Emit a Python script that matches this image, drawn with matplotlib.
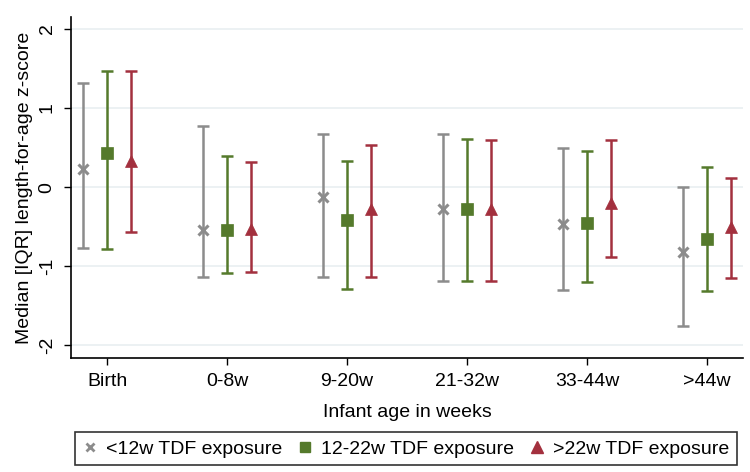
import numpy as np
import matplotlib.pyplot as plt
from matplotlib.lines import Line2D

plt.rcParams["font.family"] = ["Liberation Sans", "DejaVu Sans"]

# DATA
ages = ["Birth", "0-8w", "9-20w", "21-32w", "33-44w", ">44w"]
groups = ["<12w TDF exposure", "12-22w TDF exposure", ">22w TDF exposure"]

med_lt12 = [0.23, -0.54, -0.12, -0.28, -0.47, -0.82]
q1_lt12 = [-0.77, -1.14, -1.14, -1.19, -1.30, -1.75]
q3_lt12 = [1.32, 0.77, 0.67, 0.67, 0.49, 0.00]

med_12_22 = [0.43, -0.54, -0.42, -0.28, -0.45, -0.65]
q1_12_22 = [-0.78, -1.09, -1.29, -1.19, -1.20, -1.31]
q3_12_22 = [1.47, 0.39, 0.33, 0.61, 0.46, 0.26]

med_gt22 = [0.33, -0.53, -0.28, -0.28, -0.20, -0.50]
q1_gt22 = [-0.57, -1.07, -1.14, -1.19, -0.88, -1.15]
q3_gt22 = [1.47, 0.32, 0.53, 0.60, 0.60, 0.11]

colors = ["#8c8c8c", "#557a2c", "#a3303e"]
markers = ["x", "s", "^"]
offsets = [-0.2, 0.0, 0.2]

series = [
    (med_lt12, q1_lt12, q3_lt12),
    (med_12_22, q1_12_22, q3_12_22),
    (med_gt22, q1_gt22, q3_gt22),
]

FS = 14

# FIGURE
fig = plt.figure(figsize=(7.5, 4.72), dpi=100)
ax = fig.add_axes([0.0947, 0.2415, 0.896, 0.7225])

x = np.arange(1, len(ages) + 1)

for (med, lo, hi), c, m, off in zip(series, colors, markers, offsets):
    med = np.array(med)
    lo = np.array(lo)
    hi = np.array(hi)
    yerr = [med - lo, hi - med]
    ax.errorbar(x + off, med, yerr=yerr, fmt="none", ecolor=c,
                elinewidth=1.8, capsize=4, capthick=1.8, zorder=2)
    if m == "x":
        ax.plot(x + off, med, ls="none", marker="x", color=c,
                markersize=7, markeredgewidth=2.2, zorder=3)
    else:
        ax.plot(x + off, med, ls="none", marker=m, color=c,
                markersize=8 if m == "s" else 9, markeredgewidth=0.5, zorder=3)

for yv in [-2, -1, 0, 1, 2]:
    ax.axhline(yv, color="#e9eff1", lw=1.2, zorder=0)

ax.set_xlim(0.7, 6.3)
ax.set_ylim(-2.16, 2.15)
ax.set_xticks(x)
ax.set_xticklabels(ages, fontsize=FS)
ax.set_yticks([-2, -1, 0, 1, 2])
ax.set_yticklabels(["-2", "-1", "0", "1", "2"], fontsize=FS, rotation=90, va="center")
ax.tick_params(axis="both", length=5, width=1)
ax.tick_params(axis="x", pad=6)
ax.tick_params(axis="y", pad=6)

for s in ["top", "right"]:
    ax.spines[s].set_visible(False)
ax.spines["left"].set_linewidth(1.2)
ax.spines["bottom"].set_linewidth(1.2)

ax.set_xlabel("Infant age in weeks", fontsize=FS, labelpad=10)
ax.set_ylabel("Median [IQR] length-for-age z-score", fontsize=FS, labelpad=4)

handles = [
    Line2D([], [], ls="none", marker="x", color=colors[0], markersize=6, markeredgewidth=2),
    Line2D([], [], ls="none", marker="s", color=colors[1], markersize=7),
    Line2D([], [], ls="none", marker="^", color=colors[2], markersize=8),
]
leg = fig.legend(handles, groups, loc="center", bbox_to_anchor=(0.541, 0.049),
                 ncol=3, fontsize=FS, frameon=True, fancybox=False,
                 edgecolor="black", handlelength=0.8, handletextpad=0.4,
                 columnspacing=0.8, borderpad=0.4)
leg.get_frame().set_linewidth(1.2)

plt.savefig("out.png", dpi=100)
